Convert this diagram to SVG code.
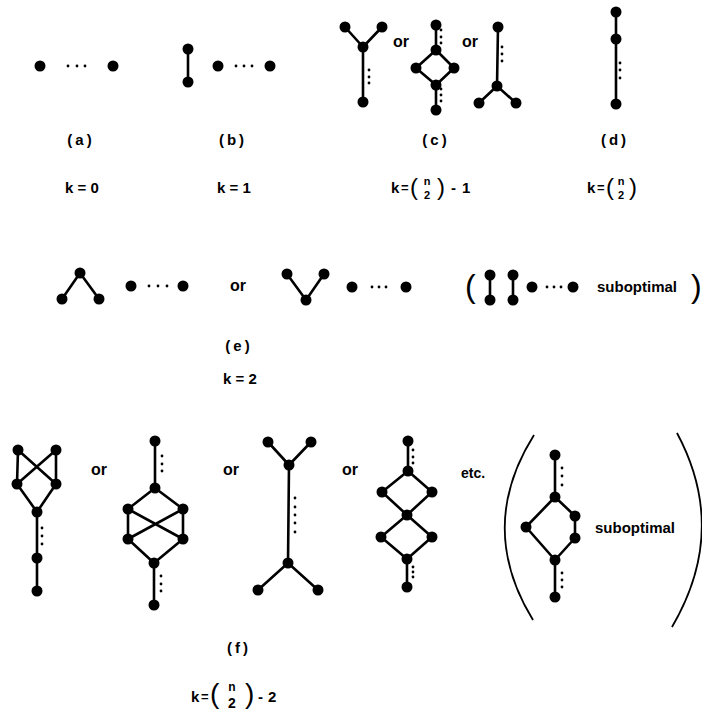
<svg xmlns="http://www.w3.org/2000/svg" width="702" height="710" viewBox="0 0 702 710">
<style>
.e{stroke:#000;stroke-width:2.6;fill:none;stroke-linecap:round;stroke-linejoin:round}
.n{fill:#000}
.t{font-family:"Liberation Sans",Arial,sans-serif;font-weight:bold;fill:#000}
.lb{font-size:15px;letter-spacing:3px;text-anchor:middle}
.k{font-size:15px}
.eq{font-size:13px}
.sm{font-size:11px;text-anchor:middle}
.pr{font-family:"Liberation Sans",Arial,sans-serif;font-weight:normal;fill:#000}
.or{font-size:16px}
.br{stroke:#000;stroke-width:1.8;fill:none}
</style>
<defs>
<circle id="d" r="5.5" class="n"/>
<circle id="p" r="1.4" class="n"/>
</defs>
<rect width="702" height="710" fill="#fff"/>

<!-- (a) -->
<g id="graph-a">
<use href="#d" x="40" y="66"/><use href="#d" x="113" y="66"/>
<use href="#p" x="68" y="66"/><use href="#p" x="77" y="66"/><use href="#p" x="85" y="66"/>
</g>
<!-- (b) -->
<g id="graph-b">
<g class="connectors"><line class="e" x1="188" y1="49" x2="188" y2="82"/></g>
<use href="#d" x="188" y="49"/><use href="#d" x="188" y="82"/>
<use href="#d" x="218" y="66"/><use href="#d" x="270" y="66"/>
<use href="#p" x="236" y="66"/><use href="#p" x="244" y="66"/><use href="#p" x="252" y="66"/>
</g>
<!-- (c) -->
<g id="graph-c1">
<g class="connectors"><path class="e" d="M345,27 L363,47 L382,27 M363,47 L363,102"/></g>
<use href="#d" x="345" y="27"/><use href="#d" x="382" y="27"/><use href="#d" x="363" y="47"/><use href="#d" x="363" y="102"/>
<use href="#p" x="369" y="70"/><use href="#p" x="369" y="77"/><use href="#p" x="369" y="83"/>
</g>
<text class="t or" x="393" y="47">or</text>
<g id="graph-c2">
<g class="connectors"><path class="e" d="M436,25 L436,50 L416,68 L436,85 L454,68 L436,50 M436,85 L436,110"/></g>
<use href="#d" x="436" y="25"/><use href="#d" x="436" y="50"/><use href="#d" x="416" y="68"/><use href="#d" x="454" y="68"/><use href="#d" x="436" y="85"/><use href="#d" x="436" y="110"/>
<use href="#p" x="441" y="30"/><use href="#p" x="441" y="37"/><use href="#p" x="441" y="43"/>
<use href="#p" x="441" y="89"/><use href="#p" x="441" y="95"/><use href="#p" x="441" y="101"/>
</g>
<text class="t or" x="462" y="47">or</text>
<g id="graph-c3">
<g class="connectors"><path class="e" d="M498,27 L497,86 M479,103 L497,86 L516,103"/></g>
<use href="#d" x="498" y="27"/><use href="#d" x="497" y="86"/><use href="#d" x="479" y="103"/><use href="#d" x="516" y="103"/>
<use href="#p" x="502" y="47"/><use href="#p" x="502" y="54"/><use href="#p" x="502" y="61"/>
</g>
<!-- (d) -->
<g id="graph-d">
<g class="connectors"><line class="e" x1="616" y1="12" x2="616" y2="104"/></g>
<use href="#d" x="616" y="12"/><use href="#d" x="616" y="39"/><use href="#d" x="616" y="104"/>
<use href="#p" x="620" y="63"/><use href="#p" x="620" y="70"/><use href="#p" x="620" y="78"/>
</g>

<!-- labels row 1 -->
<text class="t lb" x="81" y="145">(a)</text>
<text class="t lb" x="233" y="145">(b)</text>
<text class="t lb" x="436" y="145">(c)</text>
<text class="t lb" x="615" y="145">(d)</text>
<text class="t k" x="65" y="193">k = 0</text>
<text class="t k" x="217" y="193">k = 1</text>
<g id="k-c">
<text class="t k" x="391" y="193">k</text>
<text class="t eq" x="401" y="192">=</text>
<text class="pr" x="410" y="195" font-size="24">(</text>
<text class="t sm" x="427" y="185">n</text>
<text class="t sm" x="427" y="199">2</text>
<text class="pr" x="437" y="195" font-size="24">)</text>
<text class="t k" x="451" y="193">-</text>
<text class="t k" x="462" y="193">1</text>
</g>
<g id="k-d">
<text class="t k" x="587" y="193">k</text>
<text class="t eq" x="597" y="192">=</text>
<text class="pr" x="606" y="195" font-size="24">(</text>
<text class="t sm" x="621" y="185">n</text>
<text class="t sm" x="621" y="199">2</text>
<text class="pr" x="629" y="195" font-size="24">)</text>
</g>

<!-- (e) -->
<g id="graph-e1">
<g class="connectors"><path class="e" d="M62,299 L80,273 L99,299"/></g>
<use href="#d" x="80" y="273"/><use href="#d" x="62" y="299"/><use href="#d" x="99" y="299"/>
<use href="#d" x="131" y="286"/><use href="#d" x="183" y="286"/>
<use href="#p" x="149" y="286"/><use href="#p" x="158" y="286"/><use href="#p" x="167" y="286"/>
</g>
<text class="t or" x="230" y="291">or</text>
<g id="graph-e2">
<g class="connectors"><path class="e" d="M287,274 L306,300 L324,274"/></g>
<use href="#d" x="287" y="274"/><use href="#d" x="324" y="274"/><use href="#d" x="306" y="300"/>
<use href="#d" x="352" y="287"/><use href="#d" x="406" y="287"/>
<use href="#p" x="372" y="287"/><use href="#p" x="379" y="287"/><use href="#p" x="386" y="287"/>
</g>
<g id="graph-e3">
<text class="pr" x="465" y="297" font-size="32">(</text>
<g class="connectors"><line class="e" x1="490" y1="275" x2="490" y2="300"/><line class="e" x1="513" y1="275" x2="513" y2="300"/></g>
<use href="#d" x="490" y="275"/><use href="#d" x="490" y="300"/><use href="#d" x="513" y="275"/><use href="#d" x="513" y="300"/>
<use href="#d" x="532" y="287"/><use href="#d" x="573" y="287"/>
<use href="#p" x="547" y="287"/><use href="#p" x="554" y="287"/><use href="#p" x="561" y="287"/>
<text class="t" x="597" y="292" font-size="15">suboptimal</text>
<text class="pr" x="691" y="297" font-size="32">)</text>
</g>
<text class="t lb" x="239" y="351">(e)</text>
<text class="t k" x="223" y="384">k = 2</text>

<!-- (f) -->
<g id="graph-f1">
<g class="connectors"><path class="e" d="M18,450 L17,484 L37,512 L56,484 L56,450 L17,484 M18,450 L56,484 M37,512 L37,591"/></g>
<use href="#d" x="18" y="450"/><use href="#d" x="56" y="450"/><use href="#d" x="17" y="484"/><use href="#d" x="56" y="484"/><use href="#d" x="37" y="512"/><use href="#d" x="37" y="558"/><use href="#d" x="37" y="591"/>
<use href="#p" x="42" y="528"/><use href="#p" x="42" y="536"/><use href="#p" x="42" y="544"/>
</g>
<text class="t or" x="91" y="475">or</text>
<g id="graph-f2">
<g class="connectors"><path class="e" d="M155,441 L155,488 L128,509 L128,539 L154,563 L183,539 L183,509 L155,488 M128,509 L183,539 M183,509 L128,539 M154,563 L154,605"/></g>
<use href="#d" x="155" y="441"/><use href="#d" x="155" y="488"/><use href="#d" x="128" y="509"/><use href="#d" x="183" y="509"/><use href="#d" x="128" y="539"/><use href="#d" x="183" y="539"/><use href="#d" x="154" y="563"/><use href="#d" x="154" y="605"/>
<use href="#p" x="162" y="456"/><use href="#p" x="162" y="464"/><use href="#p" x="162" y="471"/>
<use href="#p" x="161" y="576"/><use href="#p" x="161" y="584"/><use href="#p" x="161" y="591"/>
</g>
<text class="t or" x="223" y="475">or</text>
<g id="graph-f3">
<g class="connectors"><path class="e" d="M268,442 L289,465 L311,442 M289,465 L288,563 M258,590 L288,563 L318,590"/></g>
<use href="#d" x="268" y="442"/><use href="#d" x="311" y="442"/><use href="#d" x="289" y="465"/><use href="#d" x="288" y="563"/><use href="#d" x="258" y="590"/><use href="#d" x="318" y="590"/>
<use href="#p" x="295" y="498"/><use href="#p" x="295" y="507"/><use href="#p" x="295" y="515"/><use href="#p" x="295" y="523"/><use href="#p" x="295" y="532"/>
</g>
<text class="t or" x="342" y="475">or</text>
<g id="graph-f4">
<g class="connectors"><path class="e" d="M408,441 L408,471 L382,492 L407,515 L381,537 L407,559 L432,537 L407,515 L432,492 L408,471 M407,559 L407,587"/></g>
<use href="#d" x="408" y="441"/><use href="#d" x="408" y="471"/><use href="#d" x="382" y="492"/><use href="#d" x="432" y="492"/><use href="#d" x="407" y="515"/><use href="#d" x="381" y="537"/><use href="#d" x="432" y="537"/><use href="#d" x="407" y="559"/><use href="#d" x="407" y="587"/>
<use href="#p" x="413" y="450"/><use href="#p" x="413" y="457"/><use href="#p" x="413" y="463"/>
<use href="#p" x="413" y="567"/><use href="#p" x="413" y="572"/><use href="#p" x="413" y="577"/>
</g>
<text class="t" x="461" y="478" font-size="14">etc.</text>
<g id="graph-f5">
<path class="br" d="M534,435 Q476,527 533,620"/>
<path class="br" d="M677,433 Q729,530 672,627"/>
<g class="connectors"><path class="e" d="M555,455 L555,497 L526,527 L555,560 L575,538 L575,516 L555,497 M555,560 L555,597"/></g>
<use href="#d" x="555" y="455"/><use href="#d" x="555" y="497"/><use href="#d" x="526" y="527"/><use href="#d" x="575" y="516"/><use href="#d" x="575" y="538"/><use href="#d" x="555" y="560"/><use href="#d" x="555" y="597"/>
<use href="#p" x="562" y="468"/><use href="#p" x="562" y="476"/><use href="#p" x="562" y="485"/>
<use href="#p" x="562" y="573"/><use href="#p" x="562" y="580"/><use href="#p" x="562" y="587"/>
<text class="t" x="595" y="533" font-size="15">suboptimal</text>
</g>
<text class="t lb" x="239" y="653">(f)</text>
<g id="k-f">
<text class="t k" x="191" y="702">k</text>
<text class="t eq" x="201" y="701">=</text>
<text class="pr" x="210" y="703" font-size="28">(</text>
<text class="t" x="232" y="691" font-size="12" text-anchor="middle">n</text>
<text class="t" x="232" y="708" font-size="14" text-anchor="middle">2</text>
<text class="pr" x="245" y="703" font-size="28">)</text>
<text class="t k" x="258" y="702">-</text>
<text class="t k" x="268" y="702">2</text>
</g>
</svg>
